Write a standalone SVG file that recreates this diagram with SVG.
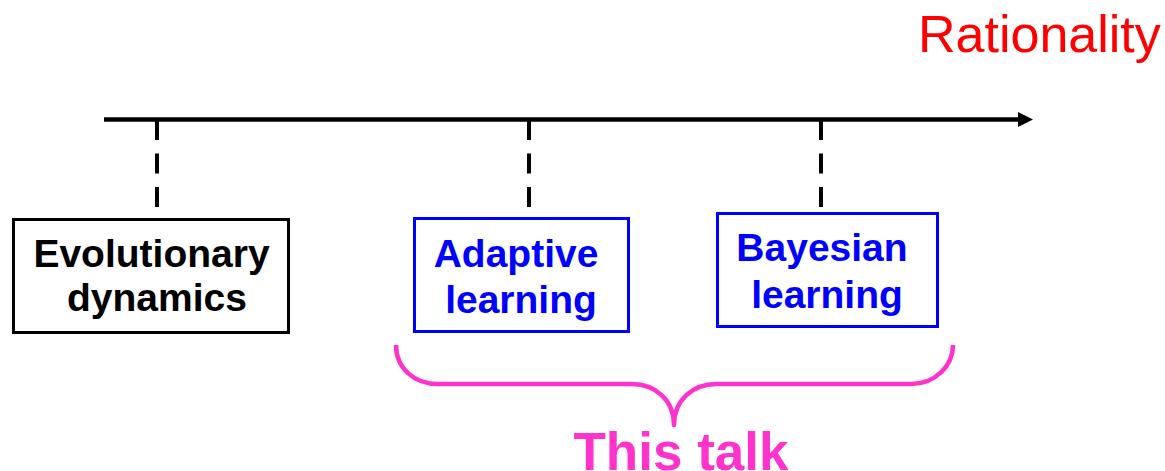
<svg xmlns="http://www.w3.org/2000/svg" width="1165" height="471" viewBox="0 0 1165 471">
  <style>
    .lbl { font-family: "Liberation Sans", Arial, sans-serif; font-weight: bold; font-size: 39px; text-anchor: middle; }
    .box { fill: #ffffff; stroke-width: 3; }
    .tick { stroke: #000000; stroke-width: 4; stroke-dasharray: 20 13.5; fill: none; }
  </style>
  <rect width="1165" height="471" fill="#ffffff"/>

  <!-- axis label -->
  <text x="918" y="52" font-family="Liberation Sans, Arial, sans-serif" font-size="52" fill="#ff0000">Rationality</text>

  <!-- axis and dashed ticks -->
  <g id="connectors">
    <line x1="104" y1="119.5" x2="1019" y2="119.5" stroke="#000000" stroke-width="4.5"/>
    <polygon points="1018,112 1033,119.5 1018,127" fill="#000000"/>
    <line class="tick" x1="157" y1="120" x2="157" y2="208"/>
    <line class="tick" x1="529" y1="120" x2="529" y2="208"/>
    <line class="tick" x1="821" y1="120" x2="821" y2="208"/>
  </g>

  <g id="evolutionary">
    <rect class="box" x="13.5" y="219.5" width="275" height="113" stroke="#000000"/>
    <text class="lbl" x="151.5" y="267" fill="#000000">Evolutionary</text>
    <text class="lbl" x="157" y="311" fill="#000000">dynamics</text>
  </g>

  <g id="adaptive">
    <rect class="box" x="414.5" y="218.5" width="214" height="113" stroke="#0000ff"/>
    <text class="lbl" x="516" y="267" fill="#0000ff">Adaptive</text>
    <text class="lbl" x="521" y="313" fill="#0000ff">learning</text>
  </g>

  <g id="bayesian">
    <rect class="box" x="717.5" y="213.5" width="220" height="113" stroke="#0000ff"/>
    <text class="lbl" x="822" y="261" fill="#0000ff">Bayesian</text>
    <text class="lbl" x="827" y="308" fill="#0000ff">learning</text>
  </g>

  <!-- brace grouping the learning approaches -->
  <g id="this-talk">
    <path d="M396,345 C396,368 414,384 438,384 L632,384 C655,384 674,400 674,425 C674,400 693,384 716,384 L911,384 C935,384 953,366 953,345" fill="none" stroke="#ff33cc" stroke-width="4.5" stroke-linejoin="round"/>
    <text x="681" y="470" font-family="Liberation Sans, Arial, sans-serif" font-weight="bold" font-size="53" text-anchor="middle" fill="#ff33cc">This talk</text>
  </g>
</svg>
